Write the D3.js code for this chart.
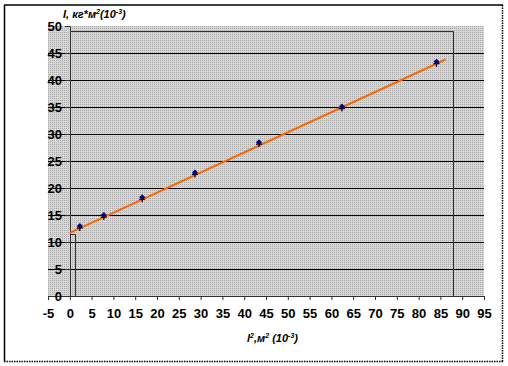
<!DOCTYPE html>
<html>
<head>
<meta charset="utf-8">
<script src="https://cdn.jsdelivr.net/npm/d3@7"></script>
<style>
  body { margin: 0; background: #fff; }
  text { font-family: "Liberation Sans", Arial, sans-serif; font-weight: bold; }
</style>
</head>
<body>
<div id="chart"></div>
<script>
// measured points: l^2 (10^-3 m^2) and I (10^-3 kg*m^2)
var lSquared = [2.3, 7.8, 16.6, 28.7, 43.4, 62.4, 84.1];
var inertia = [12.8, 14.8, 18.1, 22.7, 28.3, 34.9, 43.2];
// trend line ends
var trendX = [0, 86.2];
var trendY = [11.7, 43.8];
// boxes drawn from the origin
var boxX = [1.2, 88];
var boxY = [11.4, 49];
var xTicks = [-5, 0, 5, 10, 15, 20, 25, 30, 35, 40, 45, 50, 55, 60, 65, 70, 75, 80, 85, 90, 95];
var yTicks = [0, 5, 10, 15, 20, 25, 30, 35, 40, 45, 50];

var width = 508, height = 366;

var svg = d3.select("#chart").append("svg")
    .attr("width", width).attr("height", height);

var x = d3.scaleLinear().domain([-5, 95]).range([48, 484]);
var y = d3.scaleLinear().domain([0, 50]).range([296, 26]);

// dotted gray fill of the plot area
var defs = svg.append("defs");
var pat = defs.append("pattern").attr("id", "dots")
    .attr("width", 2).attr("height", 2).attr("patternUnits", "userSpaceOnUse");
pat.append("rect").attr("width", 2).attr("height", 2).attr("fill", "#d6d6d6");
pat.append("rect").attr("width", 1).attr("height", 1).attr("fill", "#ababab");

// outer frame: solid top/left, dotted right/bottom
svg.append("line").attr("x1", 4).attr("y1", 5).attr("x2", 503).attr("y2", 5)
    .attr("stroke", "#000").attr("stroke-width", 1.5);
svg.append("line").attr("x1", 4.5).attr("y1", 5).attr("x2", 4.5).attr("y2", 361)
    .attr("stroke", "#000").attr("stroke-width", 1.5);
svg.append("line").attr("x1", 502.5).attr("y1", 5).attr("x2", 502.5).attr("y2", 361.5)
    .attr("stroke", "#000").attr("stroke-width", 1.5).attr("stroke-dasharray", "1.5,1");
svg.append("line").attr("x1", 4).attr("y1", 361.5).attr("x2", 503).attr("y2", 361.5)
    .attr("stroke", "#000").attr("stroke-width", 1.5).attr("stroke-dasharray", "1.5,1");

svg.append("rect")
    .attr("x", x(-5)).attr("y", y(50))
    .attr("width", x(95) - x(-5)).attr("height", y(0) - y(50))
    .attr("fill", "url(#dots)");

// horizontal gridlines
svg.append("g").selectAll("line")
    .data(yTicks.filter(function(d) { return d > 0 && d < 50; }))
    .enter().append("line")
    .attr("x1", x(-5)).attr("x2", x(95))
    .attr("y1", function(d) { return Math.round(y(d)) + 0.5; })
    .attr("y2", function(d) { return Math.round(y(d)) + 0.5; })
    .attr("stroke", "#000").attr("stroke-width", 1);

// boxes
svg.append("g").selectAll("path")
    .data(d3.range(boxX.length))
    .enter().append("path")
    .attr("d", function(i) {
        var x0 = Math.round(x(0)) + 0.5, x1 = Math.round(x(boxX[i])) + 0.5;
        var y0 = Math.round(y(0)), y1 = Math.round(y(boxY[i])) + 0.5;
        return "M" + x0 + "," + y0 + "V" + y1 + "H" + x1 + "V" + y0;
    })
    .attr("fill", "none").attr("stroke", "#303030").attr("stroke-width", 1);

// axes (plain hyphen for negatives, like the original)
var fmt = function(d) { return String(d); };
var xAxis = d3.axisBottom(x).tickValues(xTicks).tickFormat(fmt).tickSize(4).tickPadding(9);
var yAxis = d3.axisLeft(y).tickValues(yTicks).tickFormat(fmt).tickSize(5).tickPadding(6);

var gx = svg.append("g").attr("transform", "translate(0," + y(0) + ")").call(xAxis);
var gy = svg.append("g").attr("transform", "translate(" + Math.round(x(0)) + ",0)").call(yAxis);

[gx, gy].forEach(function(g) {
    g.select(".domain").attr("stroke", "#303030");
    g.selectAll(".tick line").attr("stroke", "#303030");
    g.selectAll(".tick text")
        .attr("fill", "#000")
        .attr("font-size", 13)
        .attr("font-weight", "bold")
        .attr("font-family", "'Liberation Sans Narrow', 'DejaVu Sans Condensed', Arial, sans-serif");
});
gy.selectAll(".tick text").attr("x", -8);

// trend line
var line = d3.line()
    .x(function(d) { return x(d); })
    .y(function(d, i) { return y(trendY[i]); });
svg.append("path").attr("d", line(trendX))
    .attr("fill", "none").attr("stroke", "#ff6600").attr("stroke-width", 2);

// markers
var pts = svg.append("g").selectAll("g")
    .data(d3.range(lSquared.length))
    .enter().append("g")
    .attr("transform", function(i) { return "translate(" + x(lSquared[i]) + "," + y(inertia[i]) + ")"; });
pts.append("path").attr("d", "M-3,1H3M0,-2V4")
    .attr("stroke", "#000").attr("stroke-width", 1.2);
pts.append("path").attr("d", "M0,-4L3,-1L0,2L-3,-1Z")
    .attr("fill", "#000080");

// axis titles
var yTitle = svg.append("text").attr("x", 63).attr("y", 18)
    .attr("font-size", 11).attr("font-style", "italic");
yTitle.append("tspan").text("I, кг*м");
yTitle.append("tspan").attr("font-size", 7).attr("dy", -4).text("2");
yTitle.append("tspan").attr("dy", 4).text("(10");
yTitle.append("tspan").attr("font-size", 7).attr("dy", -4).text("-3");
yTitle.append("tspan").attr("dy", 4).text(")");

var xTitle = svg.append("text").attr("x", 247).attr("y", 342)
    .attr("font-size", 11).attr("font-style", "italic");
xTitle.append("tspan").text("l");
xTitle.append("tspan").attr("font-size", 7).attr("dy", -4).text("2");
xTitle.append("tspan").attr("dy", 4).text(",м");
xTitle.append("tspan").attr("font-size", 7).attr("dy", -4).text("2");
xTitle.append("tspan").attr("dy", 4).text(" (10");
xTitle.append("tspan").attr("font-size", 7).attr("dy", -4).text("-3");
xTitle.append("tspan").attr("dy", 4).text(")");
</script>
</body>
</html>
